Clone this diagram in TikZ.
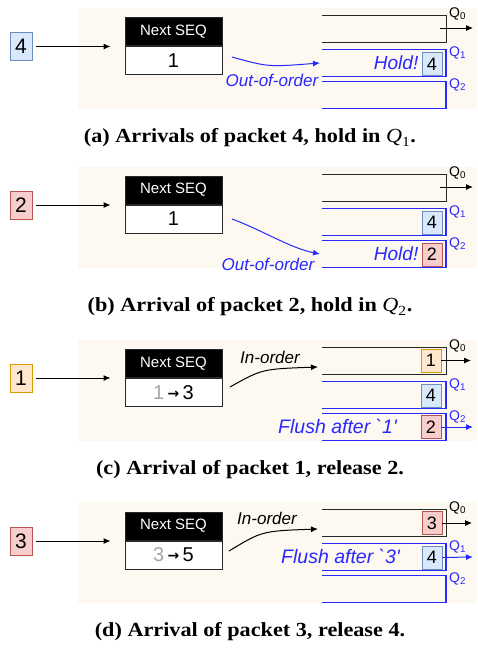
\documentclass[tikz,border=0pt]{standalone}
\usepackage{fontspec}
\setmainfont{Liberation Serif}
\setsansfont{Liberation Sans}
\newfontfamily\sfplain{Liberation Sans}
\newfontfamily\dejavu{DejaVu Sans}
\usetikzlibrary{arrows.meta}
\definecolor{bgc}{RGB}{253,249,240}
\definecolor{qb}{RGB}{40,40,255}
\definecolor{qk}{RGB}{40,40,40}
\definecolor{pbF}{RGB}{218,232,252}\definecolor{pbD}{RGB}{108,142,191}
\definecolor{prF}{RGB}{248,206,204}\definecolor{prD}{RGB}{184,84,80}
\definecolor{poF}{RGB}{255,230,204}\definecolor{poD}{RGB}{215,155,0}
\newcommand\setfs[1]{\fontsize{#1}{#1}\selectfont}
\tikzset{
  pkt/.style={draw, line width=0.9pt, minimum width=22pt, minimum height=28pt, inner sep=0pt, font=\sffamily\setfs{21}},
  qpkt/.style={draw, line width=0.9pt, minimum width=20pt, minimum height=23pt, inner sep=0pt, font=\sffamily\setfs{18}},
  pblue/.style={fill=pbF, draw=pbD},
  pred/.style={fill=prF, draw=prD},
  porange/.style={fill=poF, draw=poD},
  seqhead/.style={fill=black, draw=qk, line width=1pt, text=white, minimum width=97pt, minimum height=28pt, inner sep=0pt, font=\sffamily\setfs{15}},
  seqval/.style={fill=white, draw=qk, line width=1pt, minimum width=97pt, minimum height=28pt, inner sep=0pt, font=\sffamily\setfs{20}},
  qkline/.style={draw=qk, line width=1pt},
  qbline/.style={draw=qb, line width=1.2pt},
  qlab/.style={anchor=west, inner sep=0pt, font=\sffamily\setfs{14}},
  lbl/.style={inner sep=0pt, font=\sffamily\itshape},
  flow/.style={draw=black, line width=1pt, -{Latex[length=7pt,width=6pt]}},
  bflow/.style={draw=qb, line width=1pt, -{Latex[length=7pt,width=6pt]}},
  captext/.style={inner sep=0pt, font=\bfseries\setfs{20}},
}
\newcommand\capq[1]{{\mdseries\itshape Q}\textsubscript{\mdseries #1}}
\newcommand\captxt[1]{\scalebox{1.11}[1]{#1}}
\newcommand\queues[1]{%
  \fill[bgc] (78,-7) rectangle (477,94);
  \draw[qkline] (322,0) -- (446,0) -- (446,27) -- (322,27);
  \draw[qbline] (322,34.5) -- (446,34.5) -- (446,61.5) -- (322,61.5);
  \draw[qbline] (322,66.5) -- (446,66.5) -- (446,93.5) -- (322,93.5);
  \node[qlab, text=black] (q0#1) at (449,-1) {Q\textsubscript{0}};
  \node[qlab, text=qb] (q1#1) at (449,37.5) {Q\textsubscript{1}};
  \node[qlab, text=qb] (q2#1) at (449,69.5) {Q\textsubscript{2}};
}
\newcommand\seqbox[3]{%
  \node[seqhead] (h#1) at (173.5,#2) {Next SEQ};
  \node[seqval, anchor=north] (v#1) at (h#1.south) {#3};
}
\newcommand\grayarr[2]{{\color{black!35}#1}\,{\dejavu\bfseries\setfs{14}\raisebox{1pt}{→}}\,#2}
\newcommand\flushtxt[1]{{\sfplain\itshape Flush after `#1'}}
\begin{document}
\begin{tikzpicture}[x=1pt,y=-1pt]
\useasboundingbox (0,0) rectangle (477,651);

% ---------- panel (a) ----------
\begin{scope}[shift={(0,15)}]
  \queues{a}
  \seqbox{a}{16.5}{1}
  \node[pkt,pblue] (ina) at (21,31.5) {4};
  \draw[flow, shorten <=4pt, shorten >=14pt] (ina.east) -- (ina.east -| ha.west);
  \coordinate (oa) at (440,13);
  \coordinate (oae) at (473,13);
  \draw[flow] (oa) -- (oae);
  \node[qpkt,pblue] (p4a) at (432,49) {4};
  \node[lbl, text=qb, anchor=east, font=\sffamily\itshape\setfs{19}] (holda) at (418.5,48) {Hold!};
  \coordinate (csa) at (232,42);
  \coordinate (cea) at (320,48);
  \draw[bflow] (csa) .. controls (268,52) .. (cea);
  \node[lbl, text=qb, font=\sffamily\itshape\setfs{17}] (ooa) at (272,65) {Out-of-order};
\end{scope}
\node[captext] (capa) at (250,138) {\captxt{(a) Arrivals of packet 4, hold in \capq{1}.}};

% ---------- panel (b) ----------
\begin{scope}[shift={(0,174)}]
  \queues{b}
  \seqbox{b}{16}{1}
  \node[pkt,pred] (inb) at (21,31) {2};
  \draw[flow, shorten <=4pt, shorten >=14pt] (inb.east) -- (inb.east -| hb.west);
  \coordinate (ob) at (440,13);
  \coordinate (obe) at (473,13);
  \draw[flow] (ob) -- (obe);
  \node[qpkt,pblue] (p4b) at (432,48.5) {4};
  \node[qpkt,pred] (p2b) at (432,80.5) {2};
  \node[lbl, text=qb, anchor=east, font=\sffamily\itshape\setfs{19}] (holdb) at (418.5,80) {Hold!};
  \coordinate (csb) at (232,45);
  \coordinate (ceb) at (320,80);
  \draw[bflow] (csb) .. controls (262,56) and (290,74) .. (ceb);
  \node[lbl, text=qb, font=\sffamily\itshape\setfs{17}] (oob) at (268,90) {Out-of-order};
\end{scope}
\node[captext] (capb) at (250,307) {\captxt{(b) Arrival of packet 2, hold in \capq{2}.}};

% ---------- panel (c) ----------
\begin{scope}[shift={(0,347)}]
  \queues{c}
  \seqbox{c}{16.5}{\grayarr{1}{3}}
  \node[pkt,porange] (inc) at (21,31) {1};
  \draw[flow, shorten <=4pt, shorten >=14pt] (inc.east) -- (inc.east -| hc.west);
  \node[qpkt,porange] (p1c) at (431,13.5) {1};
  \coordinate (oce) at (471,13.5);
  \draw[flow] (p1c.east) -- (oce);
  \node[qpkt,pblue] (p4c) at (431,48.5) {4};
  \node[qpkt,pred] (p2c) at (431,80) {2};
  \coordinate (oc2) at (473,80);
  \draw[bflow] (p2c.east) -- (oc2);
  \node[lbl, text=qb, anchor=east, font=\sffamily\itshape\setfs{19.5}] (flc) at (397,79) {\flushtxt{1}};
  \coordinate (csc) at (230,40);
  \coordinate (cec) at (318,20);
  \draw[flow] (csc) .. controls (262,22) .. (cec);
  \node[lbl, text=black, font=\sffamily\itshape\setfs{17}] (ioc) at (270,10) {In-order};
\end{scope}
\node[captext] (capc) at (250,470) {\captxt{(c) Arrival of packet 1, release 2.}};

% ---------- panel (d) ----------
\begin{scope}[shift={(0,509)}]
  \queues{d}
  \seqbox{d}{17}{\grayarr{3}{5}}
  \node[pkt,pred] (ind) at (21,32) {3};
  \draw[flow, shorten <=4pt, shorten >=14pt] (ind.east) -- (ind.east -| hd.west);
  \node[qpkt,pred] (p3d) at (432,14) {3};
  \coordinate (ode) at (472,14);
  \draw[flow] (p3d.east) -- (ode);
  \node[qpkt,pblue] (p4d) at (432,48.5) {4};
  \coordinate (od1) at (473,48);
  \draw[bflow] (p4d.east) -- (od1);
  \node[lbl, text=qb, anchor=east, font=\sffamily\itshape\setfs{19.5}] (fld) at (400,47) {\flushtxt{3}};
  \coordinate (csd) at (229,42);
  \coordinate (ced) at (318,20);
  \draw[flow] (csd) .. controls (262,22) .. (ced);
  \node[lbl, text=black, font=\sffamily\itshape\setfs{17}] (iod) at (267,9) {In-order};
\end{scope}
\node[captext] (capd) at (250,632) {\captxt{(d) Arrival of packet 3, release 4.}};
\end{tikzpicture}
\end{document}
